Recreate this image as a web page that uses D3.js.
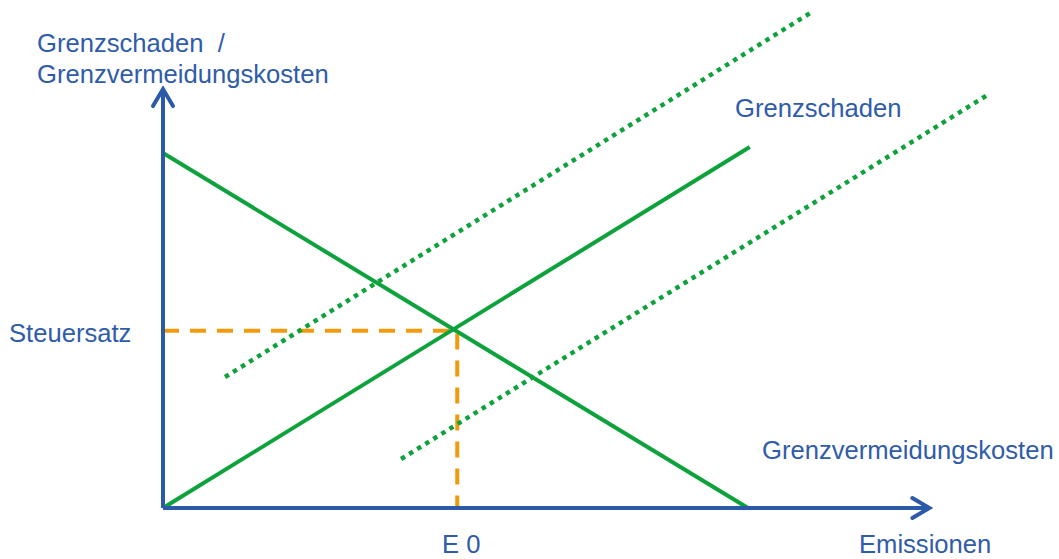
<!DOCTYPE html>
<html>
<head>
<meta charset="utf-8">
<script src="https://cdn.jsdelivr.net/npm/d3@7"></script>
<style>
  html, body { margin: 0; padding: 0; background: #fff; }
  svg { display: block; }
  text { font-family: "Liberation Sans", Arial, sans-serif; font-size: 25.6px; fill: #2f5ca9; }
</style>
</head>
<body>
<script>
// Marginal abatement cost (falling) and marginal damage (rising) curves
const abatementCost = [[0, 10], [10, 0]];
const marginalDamage = [[0, 0], [10.03, 10.17]];
// Shifted damage curves (dotted)
const damageHigh = [[1.06, 3.69], [11.09, 13.97]];
const damageLow = [[4.07, 1.38], [14.09, 11.63]];
// Equilibrium: emissions E0 and the tax rate
const equilibrium = { e0: 5.03, tax: 4.99 };
const axisMax = { x: 13.1, y: 11.8 };

const labels = {
  yTitle: ["Grenzschaden\u00A0 /", "Grenzvermeidungskosten"],
  xTitle: "Emissionen",
  damage: "Grenzschaden",
  abatement: "Grenzvermeidungskosten",
  tax: "Steuersatz",
  e0: "E 0"
};

const W = 1059, H = 559;
const blue = "#2b5ba8", green = "#0ea23c", orange = "#f39a0c";

const x = d3.scaleLinear().domain([0, 10]).range([163, 748]);
const y = d3.scaleLinear().domain([0, 10]).range([508, 153]);

const svg = d3.select("body").append("svg").attr("width", W).attr("height", H);

const line = d3.line().x(d => x(d[0])).y(d => y(d[1]));

// Orange guides to the equilibrium point
svg.append("path")
  .attr("d", line([[0, equilibrium.tax], [equilibrium.e0, equilibrium.tax], [equilibrium.e0, 0]]))
  .attr("fill", "none").attr("stroke", orange).attr("stroke-width", 4)
  .attr("stroke-dasharray", "16,11");

// Dotted shifted damage curves
[damageHigh, damageLow].forEach(d => {
  svg.append("path").attr("d", line(d))
    .attr("fill", "none").attr("stroke", green).attr("stroke-width", 4.5)
    .attr("stroke-dasharray", "4.5,5");
});

// Solid curves
[abatementCost, marginalDamage].forEach(d => {
  svg.append("path").attr("d", line(d))
    .attr("fill", "none").attr("stroke", green).attr("stroke-width", 4);
});

// Axes with arrowheads
const axes = svg.append("g").attr("stroke", blue).attr("stroke-width", 4).attr("fill", "none");
axes.append("path").attr("d", line([[0, 0], [axisMax.x, 0]]));
axes.append("path").attr("d", line([[0, 0], [0, axisMax.y]]));
const xe = x(axisMax.x), ye = y(axisMax.y), x0 = x(0), y0 = y(0);
axes.append("path").attr("d", `M${xe - 17},${y0 - 10} L${xe},${y0} L${xe - 17},${y0 + 10}`)
  .attr("stroke-linecap", "round");
axes.append("path").attr("d", `M${x0 - 10},${ye + 17} L${x0},${ye} L${x0 + 10},${ye + 17}`)
  .attr("stroke-linecap", "round");

// Labels
svg.append("text").attr("x", 37).attr("y", 52).text(labels.yTitle[0]);
svg.append("text").attr("x", 37).attr("y", 83).text(labels.yTitle[1]);
svg.append("text").attr("x", 859).attr("y", 553).text(labels.xTitle);
svg.append("text").attr("x", 735).attr("y", 117).text(labels.damage);
svg.append("text").attr("x", 762).attr("y", 459).text(labels.abatement);
svg.append("text").attr("x", 9).attr("y", 342).text(labels.tax);
svg.append("text").attr("x", 442).attr("y", 553).text(labels.e0);
</script>
</body>
</html>
